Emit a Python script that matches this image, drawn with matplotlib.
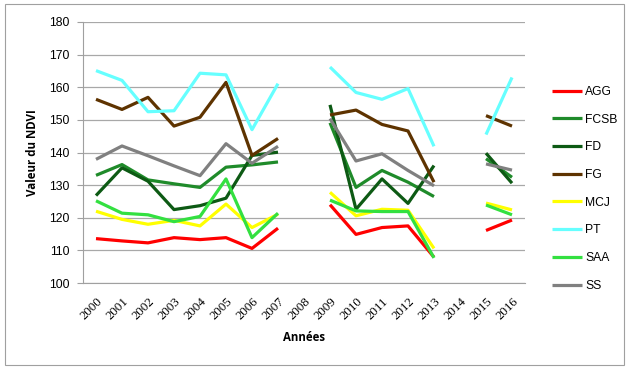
import numpy as np
import matplotlib
matplotlib.use("Agg")
import matplotlib.pyplot as plt
from matplotlib.patches import Rectangle

years = [str(y) for y in range(2000, 2017)]
nan = np.nan
AGG  = [113.6, 112.9, 112.3, 113.9, 113.3, 113.9, 110.6, 116.8, nan, 124.0, 114.9, 117.0, 117.5, 107.9, nan, 116.1, 119.3]
FCSB = [133.0, 136.3, 131.6, 130.4, 129.3, 135.5, 136.2, 137.1, nan, 149.1, 129.3, 134.5, 130.9, 126.5, nan, 138.1, 132.4]
FD   = [126.8, 135.3, 131.2, 122.5, 123.7, 126.0, 139.1, 140.1, nan, 154.6, 122.6, 131.9, 124.4, 136.0, nan, 139.8, 130.6]
FG   = [156.3, 153.2, 156.9, 148.1, 150.8, 161.5, 139.1, 144.3, nan, 151.5, 153.0, 148.6, 146.6, 130.9, nan, 151.3, 148.1]
MCJ  = [122.0, 119.5, 118.0, 119.2, 117.5, 124.2, 117.0, 121.1, nan, 127.8, 120.6, 122.6, 122.3, 110.6, nan, 124.5, 122.4]
PT   = [165.1, 162.1, 152.5, 152.8, 164.3, 163.8, 147.0, 161.1, nan, 166.2, 158.4, 156.3, 159.6, 141.9, nan, 145.5, 163.0]
SAA  = [125.2, 121.4, 120.9, 118.8, 120.4, 131.9, 113.9, 121.4, nan, 125.4, 122.1, 121.9, 121.9, 107.7, nan, 123.9, 120.9]
SS   = [137.9, 142.0, 139.0, 135.9, 132.9, 142.7, 136.7, 141.9, nan, 150.4, 137.4, 139.6, 134.5, 129.8, nan, 136.5, 134.6]

series = [("AGG", AGG, "#FF0000"), ("FCSB", FCSB, "#1F8B2A"), ("FD", FD, "#0D5A14"),
          ("FG", FG, "#5E3300"), ("MCJ", MCJ, "#FFFF00"), ("PT", PT, "#66FFFF"),
          ("SAA", SAA, "#33E040"), ("SS", SS, "#808080")]
yticks = [100, 110, 120, 130, 140, 150, 160, 170, 180]

fig = plt.figure(figsize=(6.29, 3.69), dpi=100)
fig.patches.append(Rectangle((0.008, 0.01), 0.984, 0.98, transform=fig.transFigure,
                             fill=False, edgecolor="#A0A0A0", linewidth=0.8))
ax = fig.add_axes([83/629, 1-283/369, (525-83)/629, (283-22)/369])
x = np.arange(len(years))
for name, vals, col in series:
    ax.plot(x, vals, color=col, linewidth=2.3, label=name, solid_capstyle="butt")

ax.set_xlim(-0.5, len(years)-0.5)
ax.set_ylim(100, 180)
ax.set_yticks(yticks)
ax.set_yticklabels([str(v) for v in yticks], fontsize=8.7, family="Liberation Sans")
ax.set_xticks(x)
ax.set_xticklabels(years, rotation=45, fontsize=9.3, family="Liberation Serif", ha="right",
                   rotation_mode="anchor")
ax.yaxis.grid(True, color="#A8A8A8", linewidth=0.9)
ax.set_axisbelow(True)
for s in ["top", "right"]:
    ax.spines[s].set_visible(False)
for s in ["left", "bottom"]:
    ax.spines[s].set_color("#A0A0A0")
ax.tick_params(axis="y", length=4, color="#A0A0A0", pad=6)
ax.tick_params(axis="x", length=0, pad=9)
ax.set_ylabel("Valeur du NDVI", fontsize=8.3, fontweight="bold", family="Open Sans", labelpad=7)
ax.set_xlabel("Années", fontsize=8.3, fontweight="bold", family="Open Sans", labelpad=6)

leg = fig.legend(loc="upper left", bbox_to_anchor=(541/629, 1-75/369), frameon=False,
                 handlelength=2.5, handletextpad=0.25, labelspacing=1.3,
                 prop={"family": "Liberation Sans", "size": 8.7})
fig.savefig("out.png", dpi=100)
